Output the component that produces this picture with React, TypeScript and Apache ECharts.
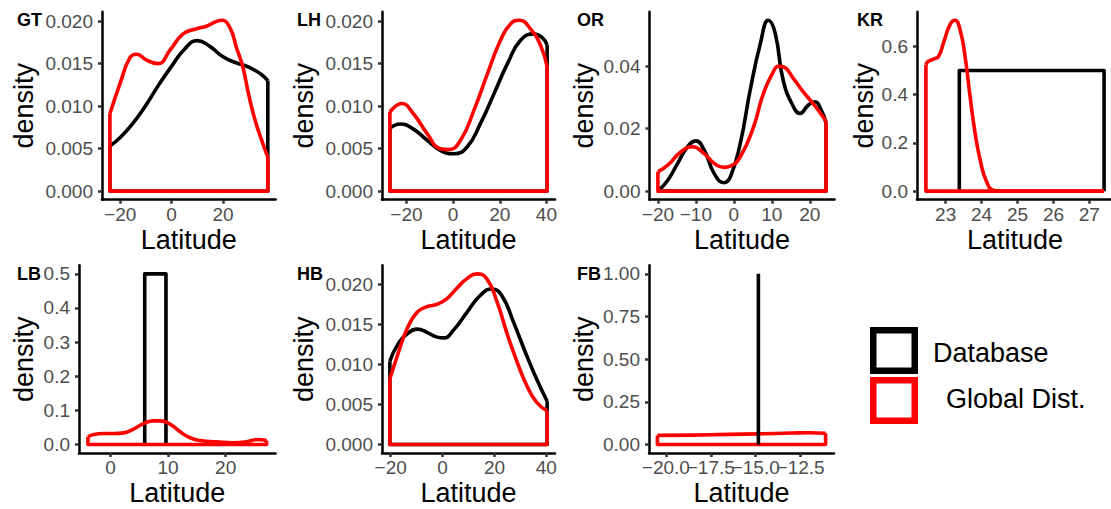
import React, { useEffect, useRef } from "react";
import * as echarts from "echarts";

// ---------- data (Latitude / density) ----------
// GT
const gtDbLat = [-24, -20, -15, -10, -5, 0, 5, 10, 15, 20, 25, 30, 35, 37.4];
const gtDbDens = [0.0053, 0.0063, 0.008, 0.0101, 0.0125, 0.0147, 0.0167, 0.0177, 0.017, 0.0158, 0.0151, 0.0146, 0.0137, 0.013];
const gtGlLat = [-24, -20, -16.2, -13.6, -9.7, -5.2, -0.6, 4.5, 9.7, 13.6, 17, 19.5, 22.7, 25.3, 27.7, 30, 32.5, 35, 37.4];
const gtGlDens = [0.0091, 0.0127, 0.0157, 0.0161, 0.0154, 0.015, 0.0166, 0.0185, 0.0191, 0.0194, 0.0199, 0.0201, 0.0192, 0.0168, 0.0146, 0.0113, 0.0083, 0.006, 0.004];
// LH
const lhDbLat = [-27.1, -22.7, -17, -11.2, -5.5, 0.3, 6, 11.8, 17.6, 23.3, 29.1, 34.8, 38.4, 40.3];
const lhDbDens = [0.0074, 0.0079, 0.0073, 0.006, 0.0048, 0.0044, 0.0052, 0.008, 0.0115, 0.015, 0.0178, 0.0185, 0.018, 0.0172];
const lhGlLat = [-27.1, -22, -17, -11.2, -5.5, -1.9, 3.2, 8.9, 14.7, 20.4, 24.7, 28.3, 33.4, 37.7, 40.3];
const lhGlDens = [0.0093, 0.0103, 0.0091, 0.0068, 0.005, 0.0049, 0.006, 0.0095, 0.0138, 0.0178, 0.0197, 0.0201, 0.019, 0.017, 0.0146];
// OR
const orDbLat = [-19.6, -17.4, -14.8, -12.2, -10, -7.8, -5.2, -2.6, -0.9, 1.7, 4.3, 7, 9.1, 10.9, 13, 15.7, 17.4, 19.6, 21.3, 23, 24.3];
const orDbDens = [0.0005, 0.0035, 0.0089, 0.0142, 0.0161, 0.0131, 0.0057, 0.0027, 0.0046, 0.0153, 0.0323, 0.0473, 0.0547, 0.0505, 0.0355, 0.027, 0.0249, 0.0275, 0.0286, 0.026, 0.0217];
const orGlLat = [-20, -17.4, -13.9, -10.9, -7.8, -5.2, -2.6, -0.9, 1.7, 5.2, 7.8, 10.4, 11.7, 13, 15.7, 18.3, 20.9, 23.5, 24.3];
const orGlDens = [0.0062, 0.0083, 0.0126, 0.0142, 0.012, 0.0089, 0.0076, 0.008, 0.011, 0.0206, 0.0313, 0.0382, 0.04, 0.0398, 0.036, 0.0318, 0.028, 0.0238, 0.0222];
// KR
const krDbLat = [23.38, 23.38, 27.41, 27.41];
const krDbDens = [0, 0.5, 0.5, 0];
const krGlLat = [22.45, 22.52, 22.66, 22.8, 22.94, 23.12, 23.26, 23.4, 23.54, 23.68, 23.82, 23.96, 24.14, 24.33, 24.6, 27.41];
const krGlDens = [0.524, 0.538, 0.547, 0.558, 0.614, 0.69, 0.708, 0.669, 0.558, 0.392, 0.24, 0.129, 0.039, 0.004, 0, 0];
// LB
const lbDbLat = [5.94, 5.94, 9.63, 9.63];
const lbDbDens = [0, 0.5, 0.5, 0];
const lbGlLat = [-3.92, -2.9, -1.15, 0.58, 2.3, 4.0, 5.8, 7.5, 8.6, 10.4, 12.1, 13.8, 15.6, 18.4, 21.3, 23.6, 25.6, 27.1];
const lbGlDens = [0.0225, 0.029, 0.032, 0.032, 0.034, 0.045, 0.062, 0.069, 0.069, 0.059, 0.037, 0.0196, 0.0117, 0.0078, 0.005, 0.0078, 0.0147, 0.0117];
// HB
const hbDbLat = [-20.3, -17.4, -13.6, -9.8, -6, -2.1, 0.4, 4.3, 9.4, 14.5, 19, 22.8, 27.3, 32.4, 36.2, 40.3];
const hbDbDens = [0.0104, 0.0124, 0.0138, 0.0144, 0.014, 0.0134, 0.0133, 0.0143, 0.0165, 0.0186, 0.0194, 0.0186, 0.0153, 0.0111, 0.0082, 0.0054];
const hbGlLat = [-20.3, -17.4, -13.6, -9.8, -6, -2.1, 1.7, 5.5, 9.4, 13.2, 17, 21, 24.7, 28.5, 32.4, 36.2, 40.3];
const hbGlDens = [0.0082, 0.0111, 0.0145, 0.0165, 0.0172, 0.0175, 0.0182, 0.0195, 0.0207, 0.0213, 0.0207, 0.0178, 0.014, 0.0105, 0.0074, 0.0053, 0.0042];
// FB
const fbDbLat = [-14.85, -14.85];
const fbDbDens = [0, 1.0];
const fbGlLat = [-20.47, -18.5, -16.5, -14.85, -13, -12, -11.11];
const fbGlDens = [0.053, 0.055, 0.059, 0.062, 0.067, 0.069, 0.066];

// ---------- tick values ----------
const gtXTicks = [-20, 0, 20];
const gtYTicks = [0, 0.005, 0.01, 0.015, 0.02];
const lhXTicks = [-20, 0, 20, 40];
const lhYTicks = [0, 0.005, 0.01, 0.015, 0.02];
const orXTicks = [-20, -10, 0, 10, 20];
const orYTicks = [0, 0.02, 0.04];
const krXTicks = [23, 24, 25, 26, 27];
const krYTicks = [0, 0.2, 0.4, 0.6];
const lbXTicks = [0, 10, 20];
const lbYTicks = [0, 0.1, 0.2, 0.3, 0.4, 0.5];
const hbXTicks = [-20, 0, 20, 40];
const hbYTicks = [0, 0.005, 0.01, 0.015, 0.02];
const fbXTicks = [-20, -17.5, -15, -12.5];
const fbYTicks = [0, 0.25, 0.5, 0.75, 1.0];

const tags = ["GT", "LH", "OR", "KR", "LB", "HB", "FB"];
const legendLabels = ["Database", "Global Dist."];

const FONT = "'Liberation Sans', Arial, Helvetica, sans-serif";

type Panel = {
  tag: string;
  dbLat: number[]; dbDens: number[]; dbKind: "curve" | "shape";
  glLat: number[]; glDens: number[];
  xTicks: number[]; yTicks: number[]; xDec: number; yDec: number;
  left: number; top: number; width: number; height: number; cellX: number;
  blackOnTop?: boolean; splitXLabels?: boolean;
};

const ROW1_TOP = 11.7, ROW1_H = 188;
const ROW2_TOP = 265.3, ROW2_H = 187.7;

const panels: Panel[] = [
  { tag: tags[0], dbLat: gtDbLat, dbDens: gtDbDens, dbKind: "curve", glLat: gtGlLat, glDens: gtGlDens, xTicks: gtXTicks, yTicks: gtYTicks, xDec: 0, yDec: 3, left: 102, top: ROW1_TOP, width: 173.7, height: ROW1_H, cellX: 0 },
  { tag: tags[1], dbLat: lhDbLat, dbDens: lhDbDens, dbKind: "curve", glLat: lhGlLat, glDens: lhGlDens, xTicks: lhXTicks, yTicks: lhYTicks, xDec: 0, yDec: 3, left: 382, top: ROW1_TOP, width: 173, height: ROW1_H, cellX: 280 },
  { tag: tags[2], dbLat: orDbLat, dbDens: orDbDens, dbKind: "curve", glLat: orGlLat, glDens: orGlDens, xTicks: orXTicks, yTicks: orYTicks, xDec: 0, yDec: 2, left: 649.5, top: ROW1_TOP, width: 185, height: ROW1_H, cellX: 560 },
  { tag: tags[3], dbLat: krDbLat, dbDens: krDbDens, dbKind: "shape", glLat: krGlLat, glDens: krGlDens, xTicks: krXTicks, yTicks: krYTicks, xDec: 0, yDec: 1, left: 917, top: ROW1_TOP, width: 196, height: ROW1_H, cellX: 840 },
  { tag: tags[4], dbLat: lbDbLat, dbDens: lbDbDens, dbKind: "shape", glLat: lbGlLat, glDens: lbGlDens, xTicks: lbXTicks, yTicks: lbYTicks, xDec: 0, yDec: 1, left: 79, top: ROW2_TOP, width: 196.5, height: ROW2_H, cellX: 0 },
  { tag: tags[5], dbLat: hbDbLat, dbDens: hbDbDens, dbKind: "curve", glLat: hbGlLat, glDens: hbGlDens, xTicks: hbXTicks, yTicks: hbYTicks, xDec: 0, yDec: 3, left: 382, top: ROW2_TOP, width: 173, height: ROW2_H, cellX: 280 },
  { tag: tags[6], dbLat: fbDbLat, dbDens: fbDbDens, dbKind: "shape", glLat: fbGlLat, glDens: fbGlDens, xTicks: fbXTicks, yTicks: fbYTicks, xDec: 1, yDec: 2, left: 649, top: ROW2_TOP, width: 185, height: ROW2_H, cellX: 560, blackOnTop: true, splitXLabels: true },
];

function fmt(v: number, d: number): string {
  const s = Math.abs(v).toFixed(d);
  return v < -1e-9 ? "\u2212" + s : s;
}

function buildOption() {
  const grid: any[] = [];
  const xAxis: any[] = [];
  const yAxis: any[] = [];
  const series: any[] = [];
  const graphic: any[] = [];

  panels.forEach((p, i) => {
    grid.push({ left: p.left, top: p.top, width: p.width, height: p.height, containLabel: false, outerBoundsMode: "none" });
    const allLat = [...p.dbLat, ...p.glLat];
    const xlo = Math.min(...allLat);
    const xhi = Math.max(...allLat);
    const yhi = Math.max(...p.dbDens, ...p.glDens);
    const xr = xhi - xlo;

    const makeX = (ticks: number[], showLine: boolean) => ({
      type: "value", gridIndex: i, position: "bottom", offset: 0,
      min: xlo - 0.05 * xr, max: xhi + 0.05 * xr,
      axisLine: { show: showLine, onZero: false, lineStyle: { color: "#000", width: 2.5 } },
      axisTick: { show: true, length: 4, lineStyle: { color: "#333", width: 2.5 }, customValues: ticks },
      axisLabel: { show: true, customValues: ticks, formatter: (v: number) => fmt(v, p.xDec), color: "#4d4d4d", fontSize: 19, fontFamily: FONT, margin: 5, hideOverlap: false, showMinLabel: true, showMaxLabel: true },
      splitLine: { show: false },
    });

    const xIndex = xAxis.length;
    if (p.splitXLabels) {
      xAxis.push(makeX(p.xTicks.filter((_, k) => k % 2 === 0), true));
      xAxis.push(makeX(p.xTicks.filter((_, k) => k % 2 === 1), false));
    } else {
      xAxis.push(makeX(p.xTicks, true));
    }
    const yIndex = yAxis.length;
    yAxis.push({
      type: "value", gridIndex: i,
      min: -0.05 * yhi, max: 1.05 * yhi,
      axisLine: { show: true, onZero: false, lineStyle: { color: "#000", width: 2.5 } },
      axisTick: { show: true, length: 4, lineStyle: { color: "#333", width: 2.5 }, customValues: p.yTicks },
      axisLabel: { show: true, customValues: p.yTicks, formatter: (v: number) => fmt(v, p.yDec), color: "#4d4d4d", fontSize: 19, fontFamily: FONT, margin: 9, hideOverlap: false, showMinLabel: true, showMaxLabel: true },
      splitLine: { show: false },
    });

    const addDensity = (lat: number[], dens: number[], color: string, kind: "curve" | "shape", z: number) => {
      const base = {
        type: "line", xAxisIndex: xIndex, yAxisIndex: yIndex, symbol: "none", showSymbol: false,
        silent: true, z, clip: false,
        lineStyle: { color, width: 3.6, join: "round", cap: "butt" },
      };
      if (kind === "curve") {
        series.push({ ...base, smooth: 0.5, data: lat.map((x, k) => [x, dens[k]]) });
        const n = lat.length - 1;
        series.push({ ...base, smooth: false, data: [[lat[0], dens[0]], [lat[0], 0], [lat[n], 0], [lat[n], dens[n]]] });
      } else {
        series.push({ ...base, smooth: false, data: lat.map((x, k) => [x, dens[k]]) });
      }
    };
    addDensity(p.dbLat, p.dbDens, "#000000", p.dbKind, p.blackOnTop ? 4 : 2);
    addDensity(p.glLat, p.glDens, "#ff0000", "curve", 3);

    const row2 = i >= 4;
    graphic.push({
      type: "text", x: p.cellX + 17, y: row2 ? 274 : 19.5,
      style: { text: p.tag, fill: "#000", fontSize: 18, fontWeight: "bold", fontFamily: FONT, textAlign: "left", textVerticalAlign: "middle" },
    });
    graphic.push({
      type: "text", x: p.cellX + 24, y: p.top + p.height / 2, rotation: Math.PI / 2,
      style: { text: "density", fill: "#000", fontSize: 27, fontFamily: FONT, textAlign: "center", textVerticalAlign: "middle" },
    });
    graphic.push({
      type: "text", x: p.left + p.width / 2, y: p.top + p.height + 40,
      style: { text: "Latitude", fill: "#000", fontSize: 27, fontFamily: FONT, textAlign: "center", textVerticalAlign: "middle" },
    });
  });

  // legend
  graphic.push({ type: "rect", shape: { x: 873.25, y: 330.25, width: 41.5, height: 40.5 }, style: { fill: "#fff", stroke: "#000", lineWidth: 6.5 } });
  graphic.push({ type: "rect", shape: { x: 873.25, y: 380.25, width: 41.5, height: 40.5 }, style: { fill: "#fff", stroke: "#ff0000", lineWidth: 6.5 } });
  graphic.push({ type: "text", x: 933, y: 352.5, style: { text: legendLabels[0], fill: "#000", fontSize: 27, fontFamily: FONT, textAlign: "left", textVerticalAlign: "middle" } });
  graphic.push({ type: "text", x: 946, y: 398.5, style: { text: legendLabels[1], fill: "#000", fontSize: 27, fontFamily: FONT, textAlign: "left", textVerticalAlign: "middle" } });

  return {
    animation: false,
    backgroundColor: "#ffffff",
    grid, xAxis, yAxis, series, graphic,
  };
}

export default function App() {
  const ref = useRef<HTMLDivElement>(null);
  useEffect(() => {
    document.body.style.margin = "0";
    if (!ref.current) return;
    const chart = echarts.init(ref.current, null, { renderer: "svg" });
    chart.setOption(buildOption() as any);
    return () => chart.dispose();
  }, []);
  return <div ref={ref} style={{ position: "absolute", left: 0, top: 0, width: 1111, height: 509, background: "#fff" }} />;
}
